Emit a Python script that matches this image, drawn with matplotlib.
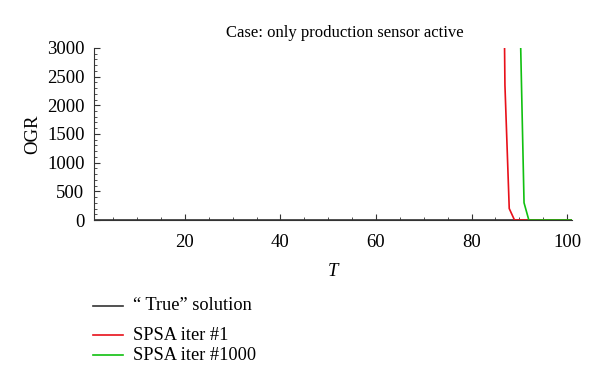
import matplotlib
matplotlib.use("Agg")
import matplotlib.pyplot as plt
from matplotlib.lines import Line2D
from matplotlib.ticker import MultipleLocator

# Data
t_true = [1, 101]
ogr_true = [0, 0]
t_iter1 = [86.8, 87.0, 87.9, 89.0, 101]
ogr_iter1 = [4000, 2350, 200, 0, 0]
t_iter1000 = [90.2, 90.3, 91.0, 92.0, 101]
ogr_iter1000 = [4000, 3000, 300, 0, 0]
labels = ["\u201c True\u201d solution", "SPSA iter #1", "SPSA iter #1000"]
colors = ["#333333", "#e8101a", "#10c010"]

plt.rcParams['font.family'] = ['Liberation Serif', 'DejaVu Serif']
fig = plt.figure(figsize=(6, 3.86), dpi=100)
ax = fig.add_axes([0.157, 0.43, 0.796, 0.446])

l0, = ax.plot(t_true, ogr_true, color=colors[0], lw=1.2, label=labels[0])
l1, = ax.plot(t_iter1, ogr_iter1, color=colors[1], lw=1.2, label=labels[1])
l2, = ax.plot(t_iter1000, ogr_iter1000, color=colors[2], lw=1.2, label=labels[2])

ax.set_xlim(1, 101)
ax.set_ylim(0, 3000)
ax.xaxis.set_major_locator(MultipleLocator(20))
ax.xaxis.set_minor_locator(MultipleLocator(5))
ax.yaxis.set_major_locator(MultipleLocator(500))
ax.yaxis.set_minor_locator(MultipleLocator(100))
for s in ['top', 'right']:
    ax.spines[s].set_visible(False)
for s in ['left', 'bottom']:
    ax.spines[s].set_color('#333333')
ax.tick_params(which='both', direction='in', color='#333333', labelsize=13.5)
ax.tick_params(which='major', length=4)
ax.tick_params(which='minor', length=2)
ax.tick_params(axis='x', pad=10)
ax.tick_params(axis='y', pad=7)

ax.set_title("Case: only production sensor active", fontsize=12, pad=8, x=0.525)
ax.set_xlabel("T", fontsize=13.5, style='italic', labelpad=9)
ax.set_ylabel("OGR", fontsize=13.5, labelpad=4)

# Legend drawn manually below the plot
rows_y = [1 - 306/386, 1 - 335/386, 1 - 355/386]
for line, y in zip([l0, l1, l2], rows_y):
    fig.add_artist(Line2D([93/600, 123/600], [y, y], color=line.get_color(), lw=1.2,
                          transform=fig.transFigure))
    fig.text(133/600, y, line.get_label(), fontsize=13.2, va='center', ha='left')

fig.savefig("out.png", dpi=100)
